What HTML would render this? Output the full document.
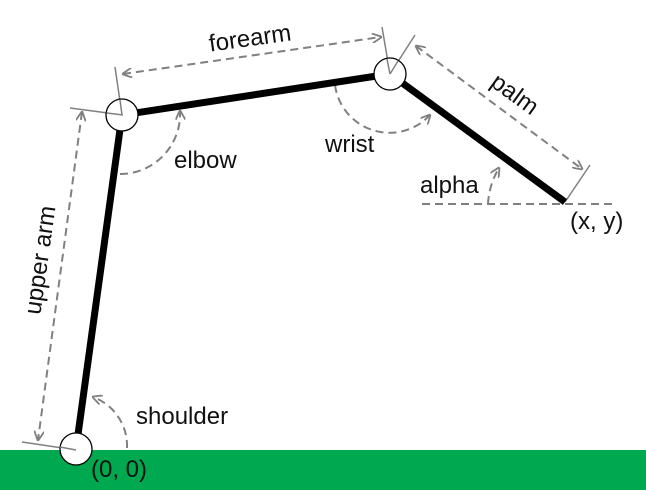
<!DOCTYPE html>
<html><head><meta charset="utf-8"><style>
html,body{margin:0;padding:0;background:#fff;width:646px;height:501px;overflow:hidden}
svg{display:block}
text{font-family:"Liberation Sans",sans-serif;font-size:24px;fill:#111}
</style></head><body>
<svg width="646" height="501" viewBox="0 0 646 501">
<defs>
<marker id="ar" viewBox="0 0 10 10" refX="9" refY="5" markerWidth="10" markerHeight="10" orient="auto-start-reverse" markerUnits="userSpaceOnUse">
<path d="M0,0 L10,5 L0,10" fill="none" stroke="#808080" stroke-width="1.8"/>
</marker>
</defs>
<rect x="0" y="450" width="646" height="40" fill="#00a84f"/>
<g stroke="#808080" stroke-width="1.5" fill="none">
<line x1="22" y1="442" x2="76" y2="450"/>
<line x1="70" y1="108" x2="123" y2="115"/>
<line x1="115" y1="67" x2="122" y2="115"/>
<line x1="382" y1="27" x2="390" y2="74"/>
<line x1="390" y1="74" x2="415" y2="35"/>
<line x1="565" y1="202" x2="590" y2="165"/>
</g>
<g stroke="#808080" stroke-width="2" fill="none" stroke-dasharray="8,5">
<line x1="82" y1="112" x2="38" y2="440" marker-start="url(#ar)" marker-end="url(#ar)"/>
<line x1="123" y1="74" x2="381" y2="37" marker-start="url(#ar)" marker-end="url(#ar)"/>
<line x1="416" y1="46" x2="582" y2="169" marker-start="url(#ar)" marker-end="url(#ar)"/>
<line x1="422" y1="204" x2="613" y2="204"/>
<path d="M127,448 A52,52 0 0 0 93,397" marker-end="url(#ar)"/>
<path d="M120,174 A60,60 0 0 0 180,111" marker-end="url(#ar)"/>
<path d="M335,85 A55,55 0 0 0 430,115" marker-end="url(#ar)"/>
<path d="M488,204 A77,77 0 0 1 499,168" marker-end="url(#ar)"/>
</g>
<g stroke="#000" stroke-width="7" fill="none">
<line x1="76" y1="449" x2="122" y2="115"/>
<line x1="122" y1="115" x2="390" y2="74"/>
<line x1="390" y1="74" x2="565" y2="202"/>
</g>
<g fill="#fff" stroke="#000" stroke-width="1.3">
<circle cx="76" cy="449" r="16"/>
<circle cx="122" cy="115" r="16"/>
<circle cx="390" cy="74" r="16"/>
</g>
<g stroke="#808080" stroke-width="1.5">
<line x1="60" y1="447" x2="76" y2="450"/>
<line x1="107" y1="113" x2="123" y2="115"/>
<line x1="120" y1="100" x2="122" y2="115"/>
<line x1="387" y1="59" x2="390" y2="74"/>
<line x1="390" y1="74" x2="398" y2="61"/>
</g>
<text x="136" y="424">shoulder</text>
<text x="91" y="477">(0, 0)</text>
<text x="174" y="168">elbow</text>
<text x="325" y="152">wrist</text>
<text x="420" y="193">alpha</text>
<text x="570" y="229">(x, y)</text>
<text x="250" y="46" text-anchor="middle" transform="rotate(-8 250 38)">forearm</text>
<text x="515" y="102" text-anchor="middle" transform="rotate(36 515 94)">palm</text>
<text x="40" y="268" text-anchor="middle" transform="rotate(-82 40 260)">upper arm</text>
</svg>
</body></html>
